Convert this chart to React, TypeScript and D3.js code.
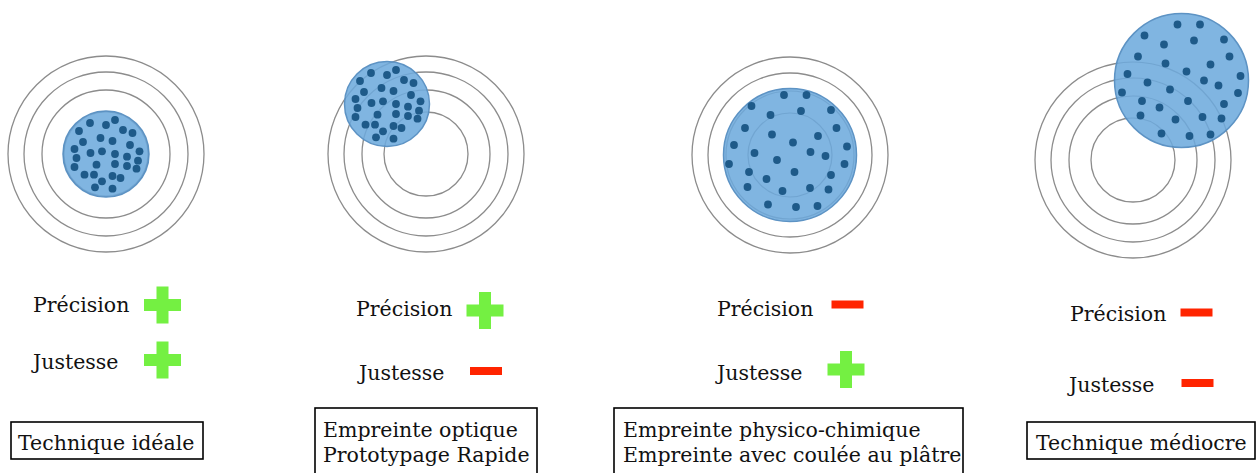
import * as d3 from "d3";

// ---- data ----
const techniques = ["ideale", "optique", "physico", "mediocre"];
const boxLabels = [
  ["Technique idéale"],
  ["Empreinte optique", "Prototypage Rapide"],
  ["Empreinte physico-chimique", "Empreinte avec coulée au plâtre"],
  ["Technique médiocre"],
];
const precision = ["+", "+", "-", "-"];
const justesse = ["+", "-", "+", "-"];
const ringRadii = [42, 64, 82, 98];
// disk offset from target centre (bias) and disk radius (spread)
const diskBias: [number, number][] = [[0, 0], [-39, -50], [0, 0], [48.5, -79.5]];
const diskSpread = [43, 42.5, 66.5, 67];

// dot offsets from disk centre
const dotsTight: [number, number][] = [
  [-16, -31], [0, -29], [9, -34], [17, -24], [26.5, -21], [-27, -23], [-5.5, -16], [6.5, -13],
  [-23, -12], [24, -9], [-31.5, -5], [-15.5, -1], [-4, -2.7], [9, 0], [33.5, -2.7], [-29.5, 4],
  [21, 2.7], [32, 6.7], [-31.5, 13], [-9.5, 10.7], [9, 10], [21, 12], [30.5, 14.7], [-21.5, 20.7],
  [-12, 20.7], [6.5, 22], [14.5, 24], [-4, 27.3], [-11, 33.3], [6.5, 34.7],
];
const dotsWide: [number, number][] = [
  [-6, -60], [16.5, -60], [-38.5, -49], [-19.5, -40], [11, -44], [41, -45], [-45, -27], [-18, -20.5],
  [28, -19], [46.5, -27], [3, -12.5], [-56, -10], [-35.5, -2], [20.5, -3], [35.5, 1], [57, -8.5],
  [-13, 5], [-61, 9], [54.5, 9], [-41, 17], [4.5, 17], [41, 20], [-23.5, 24], [-42.5, 32],
  [-7.5, 36], [20, 33], [38.5, 34.5], [-22, 49.5], [6, 52], [27.5, 51],
];
const dotsWideOff: [number, number][] = [
  [-4, -56], [18.5, -56], [-37, -45], [-17.5, -36], [12.5, -40], [42.5, -41], [-43.5, -24], [-16, -17],
  [5, -9], [29, -16], [48, -24], [-54, -6.5], [-34, 2], [-11.5, 9], [22.5, 0], [37, 5],
  [59, -4.5], [-59.5, 12], [56.5, 12.5], [-39.5, 20.5], [-22, 27], [6.5, 20.5], [42.5, 23.5], [-41, 35],
  [-6, 39], [21, 36.5], [40, 38], [-20, 53], [8, 55.5], [29, 54],
];
const dotSets = [dotsTight, dotsTight, dotsWide, dotsWideOff];

// ---- layout ----
const W = 1258;
const H = 473;
const targetCenters: [number, number][] = [[106, 154], [426, 154], [790, 155], [1133, 160]];
const labelLayout = [
  { x: 33, py: 312, jy: 369, psx: 162.5, psy: 305, jsx: 162.5, jsy: 360 },
  { x: 356, jx: 359, py: 316, jy: 380, psx: 485, psy: 310.5, jsx: 486, jsy: 371 },
  { x: 717, py: 316, jy: 380, psx: 847.5, psy: 304.5, jsx: 846, jsy: 369.5 },
  { x: 1070, jx: 1069, py: 321, jy: 392, psx: 1196.5, psy: 312.5, jsx: 1197.5, jsy: 383 },
];
const boxLayout = [
  { x0: 11, x1: 203, y0: 422, y1: 459, tx: 18, ty: 450 },
  { x0: 315, x1: 537, y0: 408, y1: 480, tx: 323, ty: 437 },
  { x0: 614, x1: 963, y0: 408, y1: 480, tx: 623, ty: 437 },
  { x0: 1027, x1: 1255, y0: 422, y1: 459, tx: 1036, ty: 450 },
];

const FONT = "'DejaVu Serif', serif";
const GREEN = "#74f042";
const RED = "#ff2400";

function Sign({ kind, cx, cy }: { kind: string; cx: number; cy: number }) {
  if (kind === "+") {
    const s = 18.5;
    const a = 6;
    return (
      <path
        d={`M${cx - a},${cy - s}H${cx + a}V${cy - a}H${cx + s}V${cy + a}H${cx + a}V${cy + s}H${cx - a}V${cy + a}H${cx - s}V${cy - a}H${cx - a}Z`}
        fill={GREEN}
      />
    );
  }
  return <rect x={cx - 16} y={cy - 4} width={32} height={8} fill={RED} />;
}

function Target({ i }: { i: number }) {
  const [cx, cy] = targetCenters[i];
  const sx = d3.scaleLinear().domain([-100, 100]).range([cx - 100, cx + 100]);
  const sy = d3.scaleLinear().domain([-100, 100]).range([cy - 100, cy + 100]);
  const [bx, by] = diskBias[i];
  const r = diskSpread[i];
  const dcx = sx(bx);
  const dcy = sy(by);
  const rings = ringRadii.map((rr) => (
    <circle key={rr} cx={sx(0)} cy={sy(0)} r={rr} fill="none" stroke="#8c8c8c" strokeWidth={1.3} />
  ));
  return (
    <g>
      {rings}
      <circle cx={dcx} cy={dcy} r={r} fill="#80b5e1" stroke="#5d93c4" strokeWidth={1.5} />
      {ringRadii.map((rr) => (
        <circle key={"o" + rr} cx={sx(0)} cy={sy(0)} r={rr} fill="none" stroke="#3d6f9c" strokeOpacity={0.22} strokeWidth={1.2}
          clipPath={`url(#disk${i})`} />
      ))}
      <clipPath id={`disk${i}`}>
        <circle cx={dcx} cy={dcy} r={r} />
      </clipPath>
      {dotSets[i].map(([dx, dy], k) => (
        <circle key={k} cx={sx(bx + dx)} cy={sy(by + dy)} r={3.9} fill="#1e5a89" />
      ))}
    </g>
  );
}

export default function App() {
  return (
    <div style={{ position: "absolute", left: 0, top: 0, width: W, height: H, background: "#fff" }}>
      <svg width={W} height={H} style={{ display: "block" }}>
        {techniques.map((t, i) => {
          const l = labelLayout[i];
          const b = boxLayout[i];
          return (
            <g key={t}>
              <Target i={i} />
              <text x={l.x} y={l.py} fontFamily={FONT} fontSize={20.5} fill="#111">Précision</text>
              <text x={l.jx ?? l.x} y={l.jy} fontFamily={FONT} fontSize={20.5} fill="#111">Justesse</text>
              <Sign kind={precision[i]} cx={l.psx} cy={l.psy} />
              <Sign kind={justesse[i]} cx={l.jsx} cy={l.jsy} />
              <rect x={b.x0} y={b.y0} width={b.x1 - b.x0} height={b.y1 - b.y0} fill="none" stroke="#000" strokeWidth={1.6} />
              {boxLabels[i].map((line, k) => (
                <text key={k} x={b.tx} y={b.ty + k * 25} fontFamily={FONT} fontSize={20.5} fill="#111">{line}</text>
              ))}
            </g>
          );
        })}
      </svg>
    </div>
  );
}
